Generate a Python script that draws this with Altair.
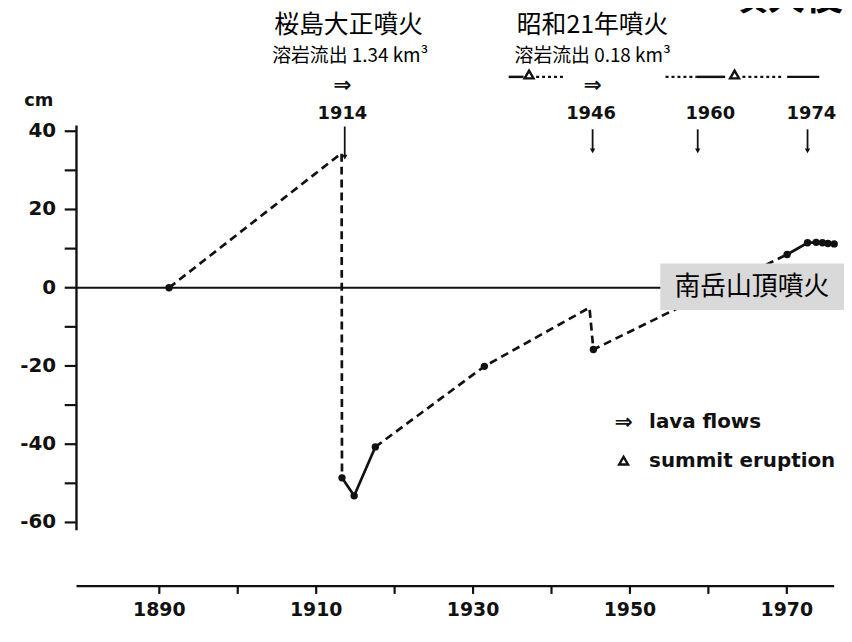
import altair as alt
import pandas as pd

# ---------------- data ----------------
# ground level change (cm) versus year (years read against the figure's own time axis)
dash1_year = [1891.24, 1913.24, 1913.29]
dash1_cm = [0.0, 34.4, -48.6]
solid1_year = [1913.29, 1914.84, 1917.54]
solid1_cm = [-48.6, -53.2, -40.7]
dash2_year = [1917.54, 1931.44, 1944.84, 1945.34, 1970.04]
dash2_cm = [-40.7, -20.1, -5.1, -15.8, 8.5]
solid2_year = [1970.04, 1972.64, 1973.74, 1974.54, 1975.24, 1976.04]
solid2_cm = [8.5, 11.5, 11.6, 11.5, 11.3, 11.2]
dots_year = [1891.24, 1913.29, 1914.84, 1917.54, 1931.44, 1945.34,
             1970.04, 1972.64, 1973.74, 1974.54, 1975.24, 1976.04]
dots_cm = [0.0, -48.6, -53.2, -40.7, -20.1, -15.8,
           8.5, 11.5, 11.6, 11.5, 11.3, 11.2]

# eruption activity band at top
band_cm = 53.9
band_solid_start = [1934.54, 1958.54, 1970.04]
band_solid_end = [1936.44, 1962.14, 1974.14]
band_dot_start = [1938.04, 1954.54, 1964.34]
band_dot_end = [1941.84, 1958.54, 1969.34]
summit_year = [1937.14, 1963.34]
lava_year = [1913.34, 1945.24]

# eruption arrows
arrow_year = [1913.64, 1945.24, 1958.64, 1972.64]
arrow_top = [41.2, 40.5, 40.5, 40.5]
arrow_bottom = [33.4, 35.0, 35.0, 35.0]
arrow_label_year = [1913.34, 1945.04, 1960.24, 1973.14]
arrow_labels = ["1914", "1946", "1960", "1974"]
arrow_label_cm = 44.5

# axes
y_major = [40, 20, 0, -20, -40, -60]
y_minor = [30, 10, -10, -30, -50]
x_ticks = [1890, 1900, 1910, 1920, 1930, 1940, 1950, 1960, 1970]
x_labels = [1890, 1910, 1930, 1950, 1970]
yaxis_year = 1879.44
xaxis_cm = -76.27

titles = ["桜島大正噴火", "昭和21年噴火"]
title_year = [1914.14, 1945.24]
subtitles = ["溶岩流出 1.34 km³", "溶岩流出 0.18 km³"]
subtitle_year = [1914.34, 1945.24]

X0, X1 = 1870.71, 1977.29
Y0, Y1 = -86.42, 70.94
xs = alt.Scale(domain=[X0, X1], nice=False, zero=False)
ys = alt.Scale(domain=[Y0, Y1], nice=False, zero=False)
INK = "#111111"
NUM_FONT = "DejaVu Sans"
CJK = "Noto Sans CJK JP"


def X(f="x"):
    return alt.X(f"{f}:Q", scale=xs, axis=None)


def Y(f="y"):
    return alt.Y(f"{f}:Q", scale=ys, axis=None)


def line(years, cms, dash=None, width=2.7):
    df = pd.DataFrame({"x": years, "y": cms, "i": range(len(years))})
    kw = dict(color=INK, strokeWidth=width)
    if dash:
        kw["strokeDash"] = dash
    return alt.Chart(df).mark_line(**kw).encode(x=X(), y=Y(), order="i:Q")


def rules(x, x2, y, y2, width=2.2, dash=None):
    df = pd.DataFrame({"x": x, "x2": x2, "y": y, "y2": y2})
    kw = dict(color=INK, strokeWidth=width)
    if dash:
        kw["strokeDash"] = dash
    return alt.Chart(df).mark_rule(**kw).encode(
        x=X(), x2="x2:Q", y=Y(), y2="y2:Q")


def text(x, y, t, **kw):
    df = pd.DataFrame({"x": x, "y": y, "t": t})
    return alt.Chart(df).mark_text(**kw).encode(x=X(), y=Y(), text="t:N")


layers = []

# y axis
layers.append(rules([yaxis_year], [yaxis_year], [41.5], [-62.0], width=2.4))
ticks_cm = y_major + y_minor
layers.append(rules([yaxis_year] * len(ticks_cm), [1877.94] * len(ticks_cm),
                    ticks_cm, ticks_cm, width=2.2))
layers.append(text([1876.84] * len(y_major), y_major,
                   [str(v) for v in y_major], align="right", baseline="middle",
                   font=NUM_FONT, fontWeight="bold", fontSize=20, color=INK))
layers.append(text([1874.64], [47.8], ["cm"], align="center", baseline="middle",
                   font=NUM_FONT, fontWeight="bold", fontSize=18, color=INK))

# zero line
layers.append(rules([yaxis_year], [1976.24], [0], [0], width=2.0))

# x axis
layers.append(rules([yaxis_year], [1976.04], [xaxis_cm], [xaxis_cm], width=2.4))
layers.append(rules(x_ticks, x_ticks, [xaxis_cm] * len(x_ticks),
                    [xaxis_cm - 2.0] * len(x_ticks), width=2.2))
layers.append(text(x_labels, [-82.4] * len(x_labels), [str(v) for v in x_labels],
                   align="center", baseline="middle", font=NUM_FONT,
                   fontWeight="bold", fontSize=19, color=INK))

# data lines
layers.append(line(dash1_year, dash1_cm, dash=[8, 5]))
layers.append(line(solid1_year, solid1_cm))
layers.append(line(dash2_year, dash2_cm, dash=[8, 5]))
layers.append(line(solid2_year, solid2_cm))
dots = pd.DataFrame({"x": dots_year, "y": dots_cm})
layers.append(alt.Chart(dots).mark_point(filled=True, color=INK, size=55, opacity=1)
              .encode(x=X(), y=Y()))

# label box for the summit eruption period
box = pd.DataFrame({"x": [1953.87], "x2": [X1], "y": [-5.71], "y2": [6.22]})
layers.append(alt.Chart(box).mark_rect(color="#d9d9d9")
              .encode(x=X(), x2="x2:Q", y=Y(), y2="y2:Q"))
layers.append(text([1965.54], [0.2], ["南岳山頂噴火"], align="center",
                   baseline="middle", font=CJK, fontSize=26, color="#000000"))

# eruption arrows and labels
layers.append(rules(arrow_year, arrow_year, arrow_top, arrow_bottom, width=1.8))
heads = pd.DataFrame({"x": arrow_year, "y": arrow_bottom})
layers.append(alt.Chart(heads).mark_point(shape="triangle-down", filled=True,
                                          color=INK, size=30, opacity=1)
              .encode(x=X(), y=Y()))
layers.append(text(arrow_label_year, [arrow_label_cm] * 4, arrow_labels,
                   align="center", baseline="middle", font=NUM_FONT,
                   fontWeight="bold", fontSize=18, color=INK))

# activity band
layers.append(rules(band_solid_start, band_solid_end, [band_cm] * 3, [band_cm] * 3,
                    width=2.5))
layers.append(rules(band_dot_start, band_dot_end, [band_cm] * 3, [band_cm] * 3,
                    width=2.5, dash=[3, 3]))
tri = pd.DataFrame({"x": summit_year, "y": [band_cm + 0.6] * 2})
layers.append(alt.Chart(tri).mark_point(shape="triangle-up", filled=False,
                                        color=INK, strokeWidth=2.4, size=80, opacity=1)
              .encode(x=X(), y=Y()))
layers.append(text(lava_year, [band_cm - 2.0] * 2, ["⇒"] * 2, align="center",
                   baseline="middle", font=NUM_FONT, fontWeight="bold",
                   fontSize=22, color=INK))

# legend
layers.append(text([1949.19], [-34.4], ["⇒"], align="center", baseline="middle",
                   font=NUM_FONT, fontWeight="bold", fontSize=22, color=INK))
tri_leg = pd.DataFrame({"x": [1949.19], "y": [-44.2]})
layers.append(alt.Chart(tri_leg).mark_point(shape="triangle-up", filled=False,
                                            color=INK, strokeWidth=2.4, size=80, opacity=1)
              .encode(x=X(), y=Y()))
layers.append(text([1952.44, 1952.44], [-34.4, -44.2], ["lava flows", "summit eruption"],
                   align="left", baseline="middle", font=NUM_FONT,
                   fontWeight="bold", fontSize=20, color=INK))

# titles
layers.append(text(title_year, [67.2] * 2, titles, align="center", baseline="middle",
                   font=CJK, fontSize=25, color="#000000"))
layers.append(text(subtitle_year, [59.2] * 2, subtitles, align="center",
                   baseline="middle", font=CJK, fontSize=19, color="#000000"))
layers.append(text([1962.74], [69.1], ["噴火後"], align="left", baseline="bottom",
                   font=CJK, fontWeight="bold", fontSize=38, color="#000000"))

chart = alt.layer(*layers).properties(
    width=842, height=620, padding=0,
    autosize=alt.AutoSizeParams(type="none"),
    background="white",
).configure_view(stroke=None)

chart.save("out.html", embed_options={"renderer": "svg", "actions": False})
